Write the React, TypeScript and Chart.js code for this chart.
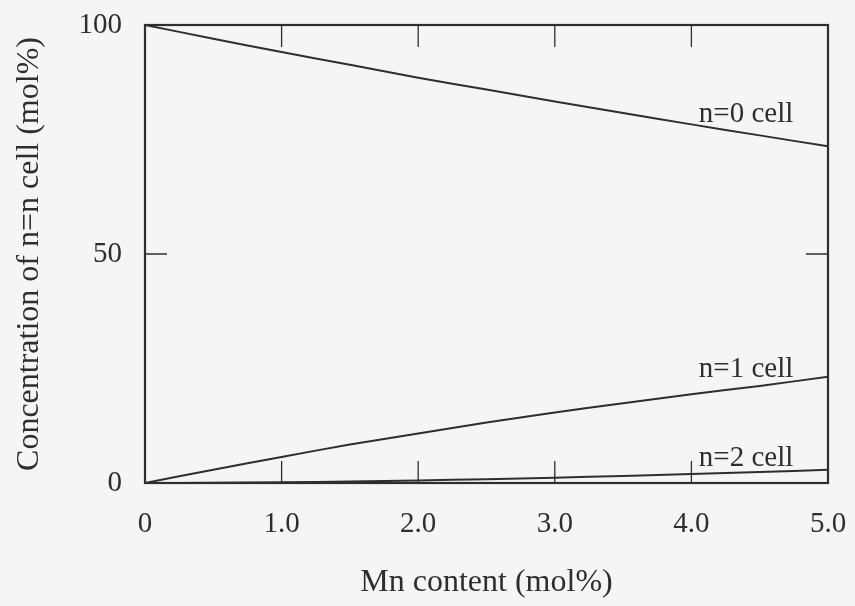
import React, { useEffect, useRef } from "react";
import { Chart, registerables } from "chart.js";

Chart.register(...registerables);

const mnContent = [0, 0.5, 1.0, 1.5, 2.0, 2.5, 3.0, 3.5, 4.0, 4.5, 5.0];
const n0Cell = [100, 97.0, 94.1, 91.3, 88.5, 85.9, 83.3, 80.8, 78.3, 75.9, 73.5];
const n1Cell = [0, 2.9, 5.7, 8.4, 10.8, 13.2, 15.4, 17.4, 19.4, 21.2, 23.2];
const n2Cell = [0, 0.04, 0.14, 0.32, 0.55, 0.83, 1.17, 1.54, 1.95, 2.38, 2.9];

const xTickValues = [0, 1, 2, 3, 4, 5];
const xTickLabels = ["0", "1.0", "2.0", "3.0", "4.0", "5.0"];
const yTickValues = [0, 50, 100];
const yTickLabels = ["0", "50", "100"];

const seriesLabels = ["n=0 cell", "n=1 cell", "n=2 cell"];
const labelX = [4.4, 4.4, 4.4];
const labelY = [80.4, 24.7, 5.3];

const INK = "#2e2e2e";
const FONT = "'Liberation Serif', 'Times New Roman', serif";

const framePlugin = {
  id: "frameAndTicks",
  afterDatasetsDraw(chart: any) {
    const { ctx, chartArea, scales } = chart;
    const { left, right, top, bottom } = chartArea;
    ctx.save();
    ctx.strokeStyle = INK;
    ctx.lineWidth = 2.2;
    ctx.strokeRect(left, top, right - left, bottom - top);
    ctx.lineWidth = 1.3;
    const tl = 22;
    xTickValues.forEach((v) => {
      if (v === 0 || v === 5) return;
      const px = scales.x.getPixelForValue(v);
      ctx.beginPath();
      ctx.moveTo(px, bottom);
      ctx.lineTo(px, bottom - tl);
      ctx.moveTo(px, top);
      ctx.lineTo(px, top + tl);
      ctx.stroke();
    });
    yTickValues.forEach((v) => {
      if (v === 0 || v === 100) return;
      const py = scales.y.getPixelForValue(v);
      ctx.beginPath();
      ctx.moveTo(left, py);
      ctx.lineTo(left + tl, py);
      ctx.moveTo(right, py);
      ctx.lineTo(right - tl, py);
      ctx.stroke();
    });
    ctx.fillStyle = INK;
    ctx.font = `29px ${FONT}`;
    ctx.textAlign = "center";
    ctx.textBaseline = "middle";
    seriesLabels.forEach((t, i) => {
      ctx.fillText(t, scales.x.getPixelForValue(labelX[i]), scales.y.getPixelForValue(labelY[i]));
    });
    ctx.restore();
  },
};

const zeroPad = (s: any) => {
  s.paddingTop = 0;
  s.paddingBottom = 0;
  s.paddingLeft = 0;
  s.paddingRight = 0;
};

export default function App() {
  const ref = useRef<HTMLCanvasElement | null>(null);
  useEffect(() => {
    document.body.style.margin = "0";
    document.body.style.background = "#f5f5f5";
    const mk = (data: number[]) => ({
      data: mnContent.map((x, i) => ({ x, y: data[i] })),
      borderColor: INK,
      borderWidth: 2,
      pointRadius: 0,
      tension: 0.3,
      fill: false,
    });
    const chart = new Chart(ref.current as HTMLCanvasElement, {
      type: "line",
      data: {
        datasets: [
          { label: seriesLabels[0], ...mk(n0Cell) },
          { label: seriesLabels[1], ...mk(n1Cell) },
          { label: seriesLabels[2], ...mk(n2Cell) },
        ],
      },
      options: {
        animation: false,
        responsive: false,
        maintainAspectRatio: false,
        layout: { padding: { left: 0, top: 25, right: 27, bottom: 0 } },
        plugins: { legend: { display: false }, tooltip: { enabled: false } },
        scales: {
          x: {
            type: "linear",
            min: 0,
            max: 5,
            afterFit: (s: any) => {
              s.height = 123;
              zeroPad(s);
            },
            afterBuildTicks: (s: any) => {
              s.ticks = xTickValues.map((v) => ({ value: v }));
            },
            grid: { display: false, drawTicks: false },
            border: { display: false },
            ticks: {
              color: INK,
              font: { family: FONT, size: 29 },
              padding: 24,
              maxRotation: 0,
              callback: (v: any) => xTickLabels[xTickValues.indexOf(Number(v))] ?? "",
            },
            title: {
              display: true,
              text: "Mn content (mol%)",
              color: INK,
              font: { family: FONT, size: 32 },
              padding: { top: 0, bottom: 4 },
            },
          },
          y: {
            type: "linear",
            min: 0,
            max: 100,
            afterFit: (s: any) => {
              s.width = 145;
              zeroPad(s);
            },
            afterBuildTicks: (s: any) => {
              s.ticks = yTickValues.map((v) => ({ value: v }));
            },
            grid: { display: false, drawTicks: false },
            border: { display: false },
            ticks: {
              color: INK,
              font: { family: FONT, size: 29 },
              padding: 23,
              callback: (v: any) => yTickLabels[yTickValues.indexOf(Number(v))] ?? "",
            },
            title: {
              display: true,
              text: "Concentration of n=n cell (mol%)",
              color: INK,
              font: { family: FONT, size: 32 },
              padding: { top: 10, bottom: 0 },
            },
          },
        },
      },
      plugins: [framePlugin],
    });
    return () => chart.destroy();
  }, []);
  return (
    <div style={{ position: "fixed", left: 0, top: 0, width: 855, height: 606, background: "#f5f5f5" }}>
      <canvas ref={ref} width={855} height={606} style={{ width: 855, height: 606 }} />
    </div>
  );
}
